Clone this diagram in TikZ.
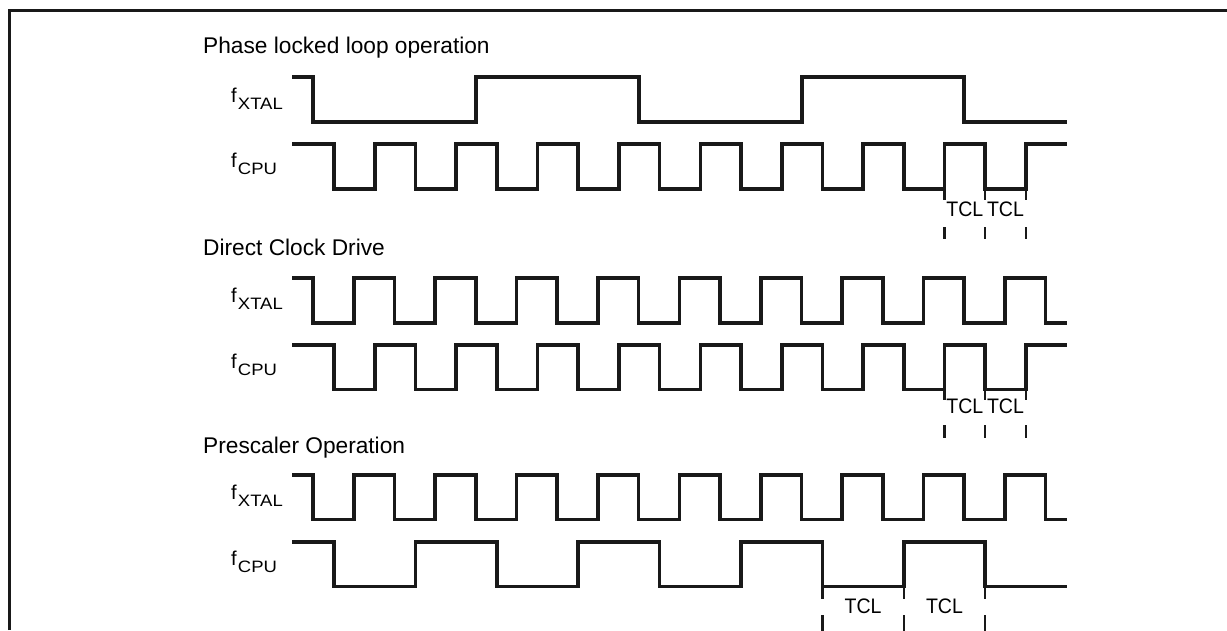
\documentclass[tikz,border=0pt]{standalone}
\usepackage{graphicx}
\usepackage{fontspec}
\setmainfont{Liberation Sans}
\begin{document}
\begin{tikzpicture}[x=1pt,y=-1pt,
  wave/.style={line width=3.6pt,line join=miter,black!90},
  frameline/.style={line width=3pt,black!90},
  tick/.style={line width=2.4pt,black!90},
  title/.style={anchor=base west,inner sep=0pt,font=\fontsize{22.7}{27}\selectfont},
  siglabel/.style={anchor=base west,inner sep=0pt,font=\fontsize{20}{22}\selectfont},
  tcl/.style={anchor=base,inner sep=0pt,font=\fontsize{21}{24}\selectfont}]
\newcommand{\subtxt}[1]{\kern1.2pt\raisebox{-7pt}{\scalebox{1.12}[1]{\fontsize{16.5}{18}\selectfont #1}}}
\newcommand{\tcltxt}{\scalebox{0.93}[1]{TCL}}
\useasboundingbox (0,0) rectangle (1227,630);
% frame
\draw[frameline] (9,630) -- (9,10) -- (1227,10);

% ---------- Section 1: Phase locked loop ----------
\node[title] (t1) at (203,53) {Phase locked loop operation};
\node[siglabel] (x1) at (231,102) {f\subtxt{XTAL}};
\node[siglabel] (c1) at (231,167) {f\subtxt{CPU}};
\draw[wave] (292,77) -- (313,77) -- (313,122) -- (476,122) -- (476,77) -- (639,77)
  -- (639,122) -- (802,122) -- (802,77) -- (964.2,77) -- (964.2,122) -- (1067,122);
\draw[wave] (292,144) -- (334,144)
  \foreach \k in {0,...,8}{ -- ++(0,45) -- ++(40.7,0) -- ++(0,-45) -- ++(40.7,0)};
\foreach \xx in {944.5,985.2,1025.9}{
  \draw[tick] (\xx,189) -- (\xx,200);
  \draw[tick] (\xx,227) -- (\xx,239);
}
\node[tcl] (tcla) at (964.8,216) {\tcltxt};
\node[tcl] (tclb) at (1005.5,216) {\tcltxt};

% ---------- Section 2: Direct Clock Drive ----------
\node[title] (t2) at (203,255) {Direct Clock Drive};
\node[siglabel] (x2) at (231,302) {f\subtxt{XTAL}};
\node[siglabel] (c2) at (231,368) {f\subtxt{CPU}};
\draw[wave] (292,278) -- (313,278)
  \foreach \k in {0,...,8}{ -- ++(0,45) -- ++(40.7,0) -- ++(0,-45) -- ++(40.7,0)}
  -- ++(0,45) -- (1067,323);
\draw[wave] (292,345) -- (334,345)
  \foreach \k in {0,...,8}{ -- ++(0,44.5) -- ++(40.7,0) -- ++(0,-44.5) -- ++(40.7,0)};
\foreach \xx in {944.5,985.2,1025.9}{
  \draw[tick] (\xx,389) -- (\xx,400);
  \draw[tick] (\xx,425) -- (\xx,438);
}
\node[tcl] (tclc) at (964.8,413) {\tcltxt};
\node[tcl] (tcld) at (1005.5,413) {\tcltxt};

% ---------- Section 3: Prescaler Operation ----------
\node[title] (t3) at (203,453) {Prescaler Operation};
\node[siglabel] (x3) at (231,499) {f\subtxt{XTAL}};
\node[siglabel] (c3) at (231,565) {f\subtxt{CPU}};
\draw[wave] (292,475) -- (313,475)
  \foreach \k in {0,...,8}{ -- ++(0,44.5) -- ++(40.7,0) -- ++(0,-44.5) -- ++(40.7,0)}
  -- ++(0,44.5) -- (1067,519.5);
\draw[wave] (292,542) -- (334,542)
  \foreach \k in {0,...,3}{ -- ++(0,44.5) -- ++(81.4,0) -- ++(0,-44.5) -- ++(81.4,0)}
  -- ++(0,44.5) -- (1067,586.5);
\foreach \xx in {822.4,903.8,985.2}{
  \draw[tick] (\xx,586) -- (\xx,599);
  \draw[tick] (\xx,615) -- (\xx,631);
}
\node[tcl] (tcle) at (863.1,613) {\tcltxt};
\node[tcl] (tclf) at (944.5,613) {\tcltxt};
\end{tikzpicture}
\end{document}
